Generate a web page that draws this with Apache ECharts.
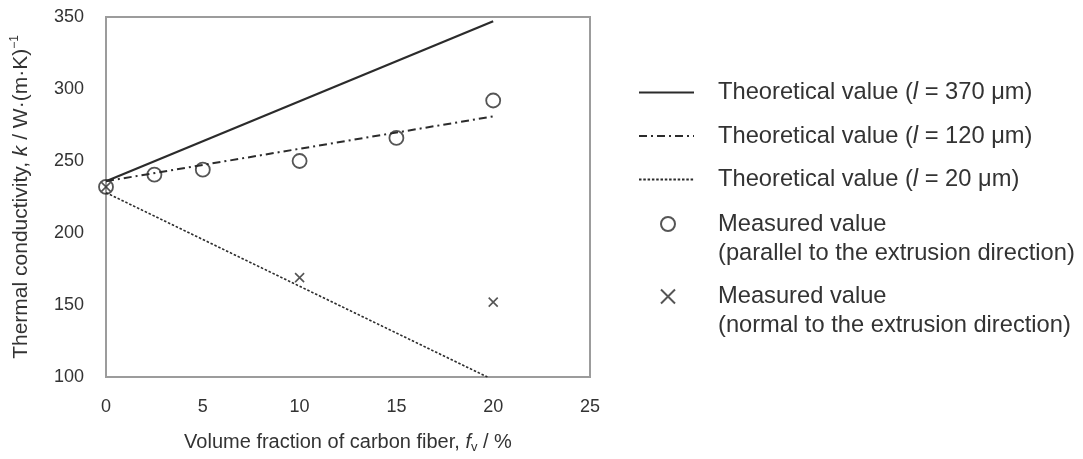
<!DOCTYPE html>
<html>
<head>
<meta charset="utf-8">
<script src="https://cdn.jsdelivr.net/npm/echarts@6/dist/echarts.min.js"></script>
<style>
  html, body { margin: 0; padding: 0; background: #ffffff; }
  #chart { width: 1083px; height: 459px; }
</style>
</head>
<body>
<div id="chart"></div>
<script>
// Measured thermal conductivity vs. carbon fiber volume fraction
const fiberFraction = [0, 2.5, 5, 10, 15, 20];
const parallelK = [232, 240.5, 244, 250, 266, 292];
const normalFraction = [0, 10, 20];
const normalK = [232, 169, 152];

// Theoretical lines for three fiber lengths
const theoryX = [0, 20];
const theory370 = [236, 347];
const theory120 = [236, 281];
const theory20X = [0, 19.7];
const theory20 = [228, 100];

// Axis ranges
const xRange = { min: 0, max: 25, interval: 5 };
const yRange = { min: 100, max: 350, interval: 50 };

// Series names (legend entries)
const names = [
  'Theoretical value (l = 370 μm)',
  'Theoretical value (l = 120 μm)',
  'Theoretical value (l = 20 μm)',
  'Measured value (parallel)',
  'Measured value (normal)'
];
const lengthLabels = ['370', '120', '20'];
const measuredNotes = ['(parallel to the extrusion direction)', '(normal to the extrusion direction)'];

const zip = (xs, ys) => xs.map((x, i) => [x, ys[i]]);

const FONT = '"Liberation Sans", Arial, sans-serif';
const INK = '#2b2b2b';
const TEXT = '#333333';
const LEGEND_SIZE = 23.7;

const legendRich = {
  n: { fontFamily: FONT, fontSize: LEGEND_SIZE, color: TEXT, lineHeight: 29 },
  i: { fontFamily: FONT, fontSize: LEGEND_SIZE, color: TEXT, fontStyle: 'italic', lineHeight: 29 },
  m: { fontFamily: FONT, fontSize: LEGEND_SIZE, color: TEXT, lineHeight: 29, padding: [0, 0, 0, 38] },
  s: { fontSize: 10, lineHeight: 29 }
};

const measuredLegend = (note, top) => ({
  data: [note.name],
  orient: 'vertical', left: 660, top: top, padding: 0,
  itemWidth: 14, itemHeight: 14, selectedMode: false,
  textStyle: { rich: legendRich },
  formatter: () => '{s| }\n{m|Measured value}\n{m|' + note.text + '}'
});

const chart = echarts.init(document.getElementById('chart'), null, { renderer: 'canvas' });

chart.setOption({
  animation: false,
  backgroundColor: '#ffffff',
  grid: {
    left: 106, top: 17, right: 493, bottom: 81,
    show: true, borderColor: '#9c9c9c', borderWidth: 2, containLabel: false
  },
  legend: [
    {
      data: names.slice(0, 3),
      orient: 'vertical', left: 638, top: 78, padding: 0,
      itemWidth: 55, itemHeight: 14, itemGap: 14.5,
      selectedMode: false,
      itemStyle: { opacity: 0 },
      textStyle: { padding: [0, 0, 0, 19], lineHeight: 28, rich: legendRich },
      formatter: name => {
        const k = names.indexOf(name);
        return '{n|Theoretical value (}{i|l}{n| = ' + lengthLabels[k] + ' μm)}';
      }
    },
    measuredLegend({ name: names[3], text: measuredNotes[0] }, 190),
    measuredLegend({ name: names[4], text: measuredNotes[1] }, 262.5)
  ],
  xAxis: {
    type: 'value',
    min: xRange.min, max: xRange.max, interval: xRange.interval,
    axisLine: { show: false }, axisTick: { show: false }, splitLine: { show: false },
    axisLabel: { margin: 21, fontFamily: FONT, fontSize: 18, color: TEXT },
    name: '{n|Volume fraction of carbon fiber, }{i|f}{v|v}{n| / %}',
    nameLocation: 'middle', nameGap: 53,
    nameTextStyle: {
      rich: {
        n: { fontFamily: FONT, fontSize: 20, color: TEXT, lineHeight: 24 },
        i: { fontFamily: FONT, fontSize: 20, color: TEXT, fontStyle: 'italic', lineHeight: 24 },
        v: { fontFamily: FONT, fontSize: 13, color: TEXT, verticalAlign: 'bottom', lineHeight: 16 }
      }
    }
  },
  yAxis: {
    type: 'value',
    min: yRange.min, max: yRange.max, interval: yRange.interval,
    axisLine: { show: false }, axisTick: { show: false }, splitLine: { show: false },
    axisLabel: { margin: 22, fontFamily: FONT, fontSize: 18, color: TEXT },
    name: '{n|Thermal conductivity, }{i|k}{n| / W·(m·K)}{p|−1}',
    nameLocation: 'middle', nameGap: 72,
    nameTextStyle: {
      rich: {
        n: { fontFamily: FONT, fontSize: 21, color: TEXT, lineHeight: 25 },
        i: { fontFamily: FONT, fontSize: 21, color: TEXT, fontStyle: 'italic', lineHeight: 25 },
        p: { fontFamily: FONT, fontSize: 12, color: TEXT, verticalAlign: 'top', lineHeight: 14 }
      }
    }
  },
  series: [
    {
      name: names[0], type: 'line', data: zip(theoryX, theory370), color: INK,
      symbol: 'none', lineStyle: { color: INK, width: 2.2, type: 'solid' }, z: 3
    },
    {
      name: names[1], type: 'line', data: zip(theoryX, theory120), color: INK,
      symbol: 'none', lineStyle: { color: INK, width: 2, type: [8, 4, 2, 4] }, z: 3
    },
    {
      name: names[2], type: 'line', data: zip(theory20X, theory20), color: INK,
      symbol: 'none', lineStyle: { color: INK, width: 1.6, type: [2.5, 1.8] }, z: 3
    },
    {
      name: names[3], type: 'scatter', data: zip(fiberFraction, parallelK),
      symbol: 'circle', symbolSize: 14,
      itemStyle: { color: 'rgba(255,255,255,0)', borderColor: INK, borderWidth: 1.8 }, z: 4
    },
    {
      name: names[4], type: 'scatter', data: zip(normalFraction, normalK),
      symbol: 'path://M0,0L10,10M10,0L0,10', symbolSize: 9,
      itemStyle: { color: 'rgba(255,255,255,0)', borderColor: INK, borderWidth: 1.6 }, z: 5
    }
  ]
});
</script>
</body>
</html>
